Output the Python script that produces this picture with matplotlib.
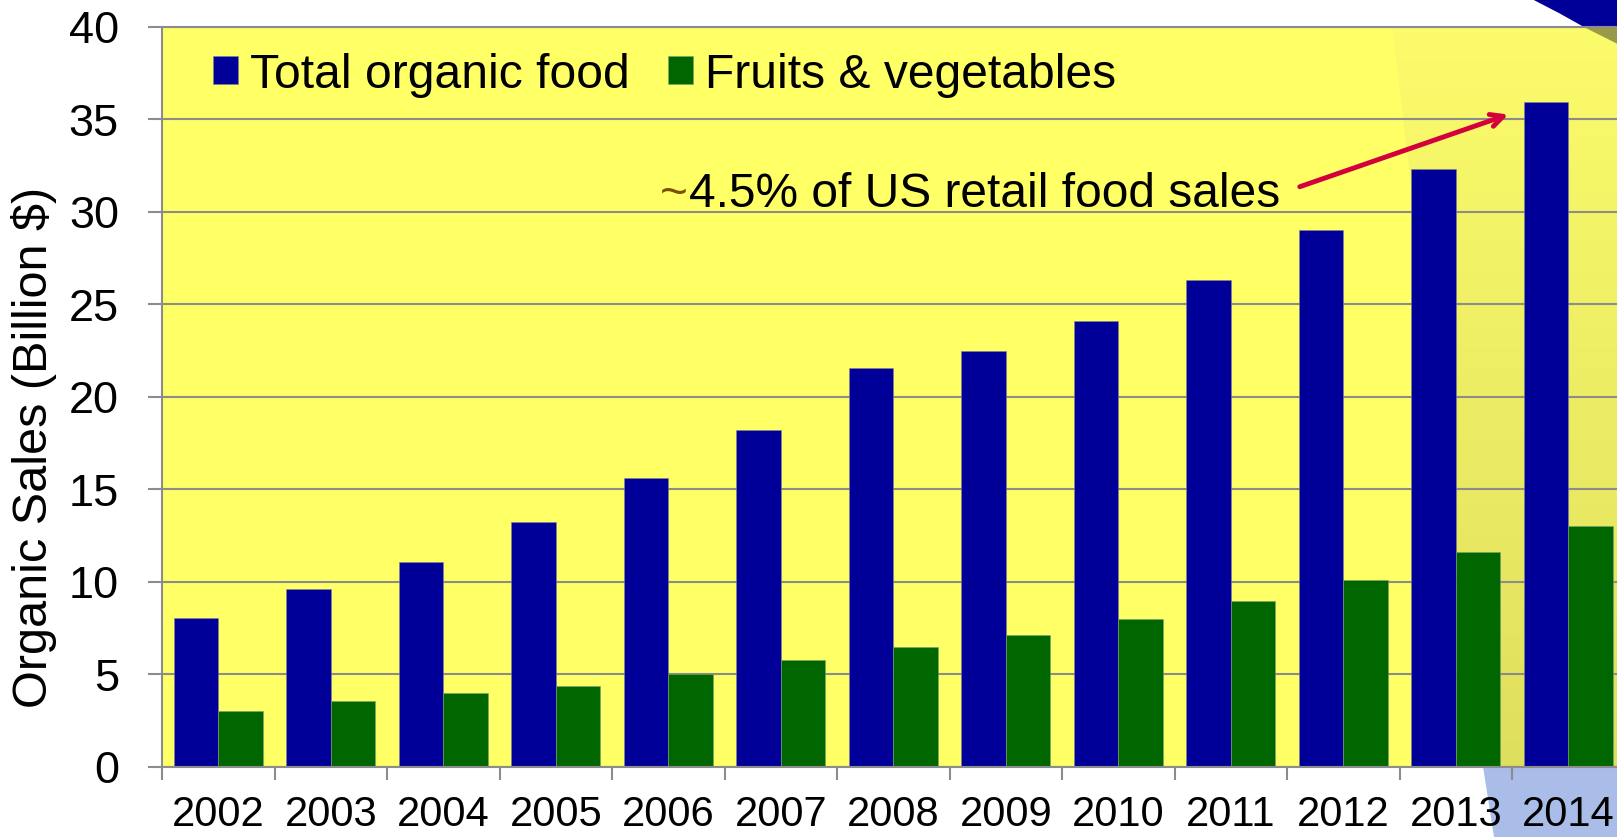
import numpy as np
import matplotlib
matplotlib.use('Agg')
import matplotlib.pyplot as plt
from matplotlib.patches import Polygon
from matplotlib.ticker import FixedLocator

plt.rcParams['font.family'] = ['Liberation Sans', 'DejaVu Sans']

years = ['2002', '2003', '2004', '2005', '2006', '2007', '2008',
         '2009', '2010', '2011', '2012', '2013', '2014']
total_organic = [8.05, 9.6, 11.1, 13.25, 15.6, 18.2, 21.55, 22.45, 24.1, 26.3, 29.0, 32.3, 35.95]
fruits_veg = [3.05, 3.55, 4.0, 4.4, 5.0, 5.8, 6.5, 7.15, 8.0, 8.95, 10.1, 11.6, 13.0]
series_labels = ['Total organic food', 'Fruits & vegetables']
note = '4.5% of US retail food sales'

W, H = 1617, 837
fig = plt.figure(figsize=(W / 100, H / 100 + 0.004), dpi=100)
fig.patch.set_facecolor('white')


def px(x, y):
    # pixel (from top-left) -> figure fraction
    return (x / W, 1 - y / H)


# slide background pieces behind the chart
blue_corner = [px(1533, 0), px(1560, 14), px(1585, 28), px(1617, 44), px(1617, 0)]
fig.patches.append(Polygon(blue_corner, closed=True, transform=fig.transFigure,
                           facecolor='#000099', edgecolor='none', zorder=-1))
light_circle = [px(1482, 760), px(1617, 760), px(1617, 837), px(1494, 837)]
fig.patches.append(Polygon(light_circle, closed=True, transform=fig.transFigure,
                           facecolor='#a9bde8', edgecolor='none', zorder=-1))

ax = fig.add_axes([162 / W, 70 / H, 1462.5 / W, 740 / H])
ax.set_facecolor('#ffff66')

x = np.arange(len(years))
bw = 0.397
ax.bar(x - bw / 2, total_organic, bw, color='#000099', edgecolor='#7f7fa0', linewidth=0.4,
       label=series_labels[0], zorder=2)
ax.bar(x + bw / 2, fruits_veg, bw, color='#006600', edgecolor='#7f9f7f', linewidth=0.4,
       label=series_labels[1], zorder=2)

# darker overlay at the right (circle from the slide showing through)
grad = np.zeros((100, 1, 3))
top_c = np.array([0.985, 0.985, 0.42])
bot_c = np.array([0.875, 0.875, 0.37])
for i in range(100):
    t = i / 99
    grad[i, 0] = top_c * (1 - t) + bot_c * t
im = ax.imshow(grad, extent=(10.0, 12.5, 0, 40), aspect='auto', origin='upper',
               zorder=0.2, interpolation='bilinear')
clip = Polygon([(10.43, 40), (12.5, 40), (12.5, 0), (11.23, 0)], closed=True,
               transform=ax.transData, facecolor='none', edgecolor='none')
ax.add_patch(clip)
im.set_clip_path(clip)
olive = Polygon(blue_corner, closed=True, transform=fig.transFigure,
                facecolor='#99994a', edgecolor='none', zorder=0.3)
ax.add_patch(olive)
olive.set_clip_path(ax.patch)

ax.set_xlim(-0.5, 12.5)
ax.set_ylim(0, 40)
ax.set_yticks(np.arange(0, 41, 5))
ax.yaxis.grid(True, color='#8c8c8c', linewidth=1.5)
ax.set_axisbelow(True)

ax.xaxis.set_major_locator(FixedLocator(np.arange(-0.5, 13, 1)))
ax.xaxis.set_major_formatter(plt.NullFormatter())
ax.xaxis.set_minor_locator(FixedLocator(x))
ax.set_xticklabels(years, minor=True)
ax.tick_params(axis='x', which='major', length=9, width=1.5, color='#8c8c8c')
ax.tick_params(axis='x', which='minor', length=0, pad=20, labelsize=30)
ax.tick_params(axis='y', length=10, width=1.5, color='#8c8c8c', pad=21, labelsize=32.5)

for side in ['left', 'bottom', 'top']:
    ax.spines[side].set_color('#8c8c8c')
    ax.spines[side].set_linewidth(1.5)
ax.spines['right'].set_visible(False)

ax.set_ylabel('Organic Sales (Billion $)', fontsize=35)
ax.yaxis.set_label_coords(-0.0715, 0.432)

leg = ax.legend(loc='center left', bbox_to_anchor=(0.0186, 0.935), ncol=2, frameon=False,
                fontsize=34.6, borderpad=0, handlelength=0.52, handleheight=0.52,
                handletextpad=0.25, columnspacing=0.8)

# annotation with brown tilde
ax.text(4.18, 30.3, note, fontsize=34.5, ha='left', va='baseline', color='black', zorder=4)
ax.text(4.17, 30.3, '~', fontsize=34.5, ha='right', va='baseline', color='#7f4f00', zorder=4)
ax.annotate('', xy=(11.49, 35.3), xytext=(9.59, 31.3),
            arrowprops=dict(arrowstyle='->,head_length=0.9,head_width=0.45',
                            color='#d4003c', lw=3.5), zorder=4)

fig.savefig('out.png', dpi=100)
